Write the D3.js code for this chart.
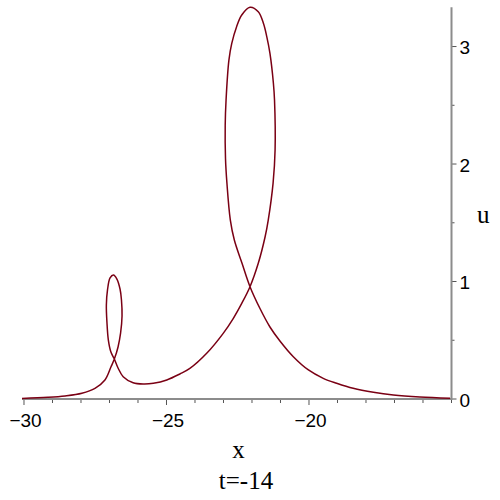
<html>
<head>
  <title>loop soliton t=-14</title>
  <meta charset="utf-8" />
<script src="https://d3js.org/d3.v7.min.js"></script>
</head>
<style>
  body { margin: 0; background: white; }
  svg { width: 500px; height: 500px; display: block; }
  .tick-label { font-family: Arial, "Liberation Sans", sans-serif; font-size: 19px; fill: black; }
  .axis-title { font-family: "Times New Roman", "Liberation Serif", serif; font-size: 25px; fill: black; }
</style>
<body>
<svg class="main"></svg>
<script>

// curve points, in the order the curve is traced
var xVals = [-30.07, -29.16, -28.56, -27.97, -27.51, -27.16, -26.95, -26.83, -26.70, -26.61,
  -26.56, -26.58, -26.63, -26.74, -26.86, -26.98, -27.07, -27.11, -27.09, -27.04,
  -26.95, -26.83, -26.70, -26.52, -26.17, -25.81, -25.46, -24.99, -24.53, -24.18,
  -23.59, -23.01, -22.66, -22.36, -22.07, -21.78, -21.54, -21.43, -21.26, -21.19,
  -21.21, -21.25, -21.37, -21.48, -21.60, -21.78, -22.07, -22.36, -22.54, -22.71,
  -22.81, -22.91, -22.94, -22.93, -22.88, -22.76, -22.62, -22.35, -22.07, -21.72,
  -21.37, -21.02, -20.55, -20.02, -19.50, -19.03, -18.45, -17.74, -17.04, -16.11,
  -15.05]

var uVals = [0.004, 0.014, 0.026, 0.049, 0.091, 0.162, 0.272, 0.340, 0.443, 0.562,
  0.706, 0.843, 0.936, 1.021, 1.055, 1.030, 0.928, 0.800, 0.655, 0.502,
  0.400, 0.340, 0.264, 0.190, 0.139, 0.128, 0.134, 0.162, 0.213, 0.260,
  0.389, 0.559, 0.685, 0.814, 0.956, 1.155, 1.381, 1.523, 1.838, 2.119,
  2.545, 2.690, 2.942, 3.083, 3.198, 3.296, 3.334, 3.268, 3.169, 3.027,
  2.885, 2.545, 2.330, 2.050, 1.838, 1.523, 1.353, 1.155, 0.956, 0.770,
  0.613, 0.494, 0.360, 0.247, 0.176, 0.134, 0.091, 0.057, 0.034, 0.017,
  0.006]

var xTicks = d3.range(-30, -14, 1)
var xLabels = [-30, -25, -20]
var uTicks = [0, 0.5, 1, 1.5, 2, 2.5, 3]
var uLabels = [0, 1, 2, 3]

var points = xVals.map(function (x, i) { return [x, uVals[i]] })

var x = d3.scaleLinear().domain([-30.07, -15]).range([22, 451.5])
var y = d3.scaleLinear().domain([0, 3.334]).range([399, 7.3])

var svg = d3.select("svg.main")

function fmt(v) { return v < 0 ? "\u2212" + Math.abs(v) : "" + v }

// x axis along u = 0
var gx = svg.append("g").attr("transform", "translate(0," + y(0) + ")")
gx.selectAll("line.tick")
  .data(xTicks)
  .enter()
  .append("line")
  .attr("x1", function (d) { return x(d) })
  .attr("x2", function (d) { return x(d) })
  .attr("y1", 0)
  .attr("y2", function (d) { return xLabels.indexOf(d) >= 0 ? 6 : 4 })
  .style("stroke", "#555")
  .style("stroke-width", 1)
gx.append("line")
  .attr("x1", x.range()[0]).attr("x2", x.range()[1])
  .style("stroke", "#8c8c8c")
  .style("stroke-width", 2)
gx.selectAll("text")
  .data(xLabels)
  .enter()
  .append("text")
  .attr("class", "tick-label")
  .attr("x", function (d) { return x(d) + 1.5 })
  .attr("y", 28)
  .attr("text-anchor", "middle")
  .text(fmt)

// u axis on the right at x = -15
var gy = svg.append("g").attr("transform", "translate(" + x(-15) + ",0)")
gy.selectAll("line.tick")
  .data(uTicks)
  .enter()
  .append("line")
  .attr("y1", function (d) { return y(d) })
  .attr("y2", function (d) { return y(d) })
  .attr("x1", 0)
  .attr("x2", function (d) { return uLabels.indexOf(d) >= 0 ? 5 : 3 })
  .style("stroke", "#555")
  .style("stroke-width", 1)
gy.append("line")
  .attr("y1", y.range()[0] + 1).attr("y2", y.range()[1])
  .style("stroke", "#8c8c8c")
  .style("stroke-width", 2)
gy.selectAll("text")
  .data(uLabels)
  .enter()
  .append("text")
  .attr("class", "tick-label")
  .attr("x", 8)
  .attr("y", function (d) { return y(d) + 7.5 })
  .text(fmt)

var line = d3.line()
  .curve(d3.curveCatmullRom.alpha(0.5))
  .x(function (d) { return x(d[0]) })
  .y(function (d) { return y(d[1]) })

svg.append("path")
  .datum(points)
  .attr("d", line)
  .style("fill", "none")
  .style("stroke", "#7a0014")
  .style("stroke-width", 1.5)
  .style("stroke-linejoin", "round")

svg.append("text").attr("class", "axis-title")
  .attr("x", 238.5).attr("y", 458).attr("text-anchor", "middle").text("x")
svg.append("text").attr("class", "axis-title")
  .attr("x", 477).attr("y", 223).text("u")
svg.append("text").attr("class", "axis-title")
  .attr("x", 246).attr("y", 489).attr("text-anchor", "middle").text("t=-14")

</script>
</body>
</html>
